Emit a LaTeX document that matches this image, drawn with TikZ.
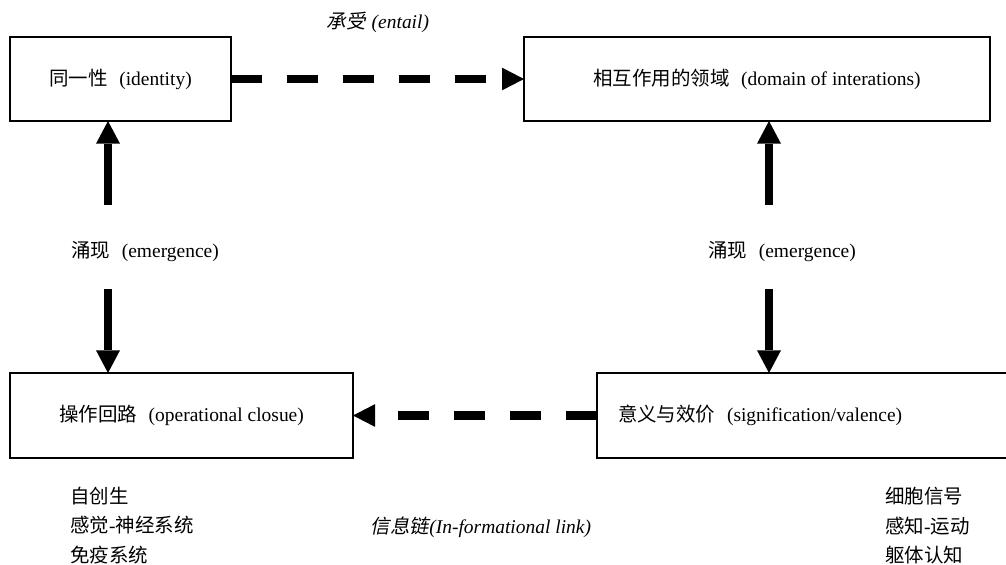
\documentclass[tikz,border=0pt]{standalone}
\usepackage{fontspec}
\setmainfont{Liberation Serif}
\newfontfamily\cjkfont{Noto Sans CJK SC}
\newfontfamily\cjkitfont[FakeSlant=0.2]{Noto Sans CJK SC}
\usetikzlibrary{arrows.meta}
\newcommand{\zhtext}[1]{{\cjkfont #1}}
\newcommand{\zhit}[1]{{\cjkitfont #1}}
\begin{document}
\begin{tikzpicture}[x=0.75pt,y=-0.75pt,
  every node/.style={font=\fontsize{14.6}{22}\selectfont, text=black, inner sep=0pt},
  box/.style={draw, line width=1.2pt, inner sep=0pt, outer sep=0pt},
  dashconn/.style={line width=6.4pt, dash pattern=on 23.25pt off 18.75pt,
    -{Triangle[length=16.5pt,width=17pt,line width=0pt]}},
  solidconn/.style={line width=6.4pt, -{Triangle[length=17pt,width=18pt,line width=0pt]}},
  gap/.style={}]
\path[use as bounding box, clip] (0,0) rectangle (1006,564);

% boxes
\node[box, minimum width=165.75pt, minimum height=63pt] (TL) at (120.5,79)
  {\zhtext{同一性}\hspace{0.6em}(identity)};
\node[box, minimum width=349.5pt, minimum height=63pt] (TR) at (757,79)
  {\zhtext{相互作用的领域}\hspace{0.6em}(domain of interations)};
\node[box, minimum width=257.25pt, minimum height=63.75pt] (BL) at (181.5,415.5)
  {\zhtext{操作回路}\hspace{0.6em}(operational closue)};
\node[box, anchor=west, minimum height=63.75pt, inner xsep=15.75pt, text width=282pt, align=left] (BR) at (597,415.5)
  {\zhtext{意义与效价}\hspace{0.6em}(signification/valence)};

% labels
\node (entail) at (378,22) {\zhit{承受}\hspace{0.3em}\textit{(entail)}};
\node (emL) at (145,252) {\zhtext{涌现}\hspace{0.6em}(emergence)};
\node (emR) at (782,252) {\zhtext{涌现}\hspace{0.6em}(emergence)};
\node (info) at (481,527) {\zhit{信息链}\textit{(In-formational link)}};
\node[anchor=north west, align=left] (listL) at (70,487)
  {\zhtext{自创生}\\\zhtext{感觉}-\zhtext{神经系统}\\\zhtext{免疫系统}};
\node[anchor=north west, align=left] (listR) at (885,487)
  {\zhtext{细胞信号}\\\zhtext{感知}-\zhtext{运动}\\\zhtext{躯体认知}};

% emergence arrow ends
\coordinate (lu) at (108,205);
\coordinate (ld) at (108,289);
\coordinate (ru) at (769,205);
\coordinate (rd) at (769,289);

% connectors
\draw[dashconn] (TL.east) -- (TR.west);
\draw[dashconn] (BR.west) -- (BL.east);
\draw[solidconn] (lu) -- (TL.south -| lu);
\draw[solidconn] (ld) -- (BL.north -| ld);
\draw[solidconn] (ru) -- (TR.south -| ru);
\draw[solidconn] (rd) -- (BR.north -| rd);
\end{tikzpicture}
\end{document}
